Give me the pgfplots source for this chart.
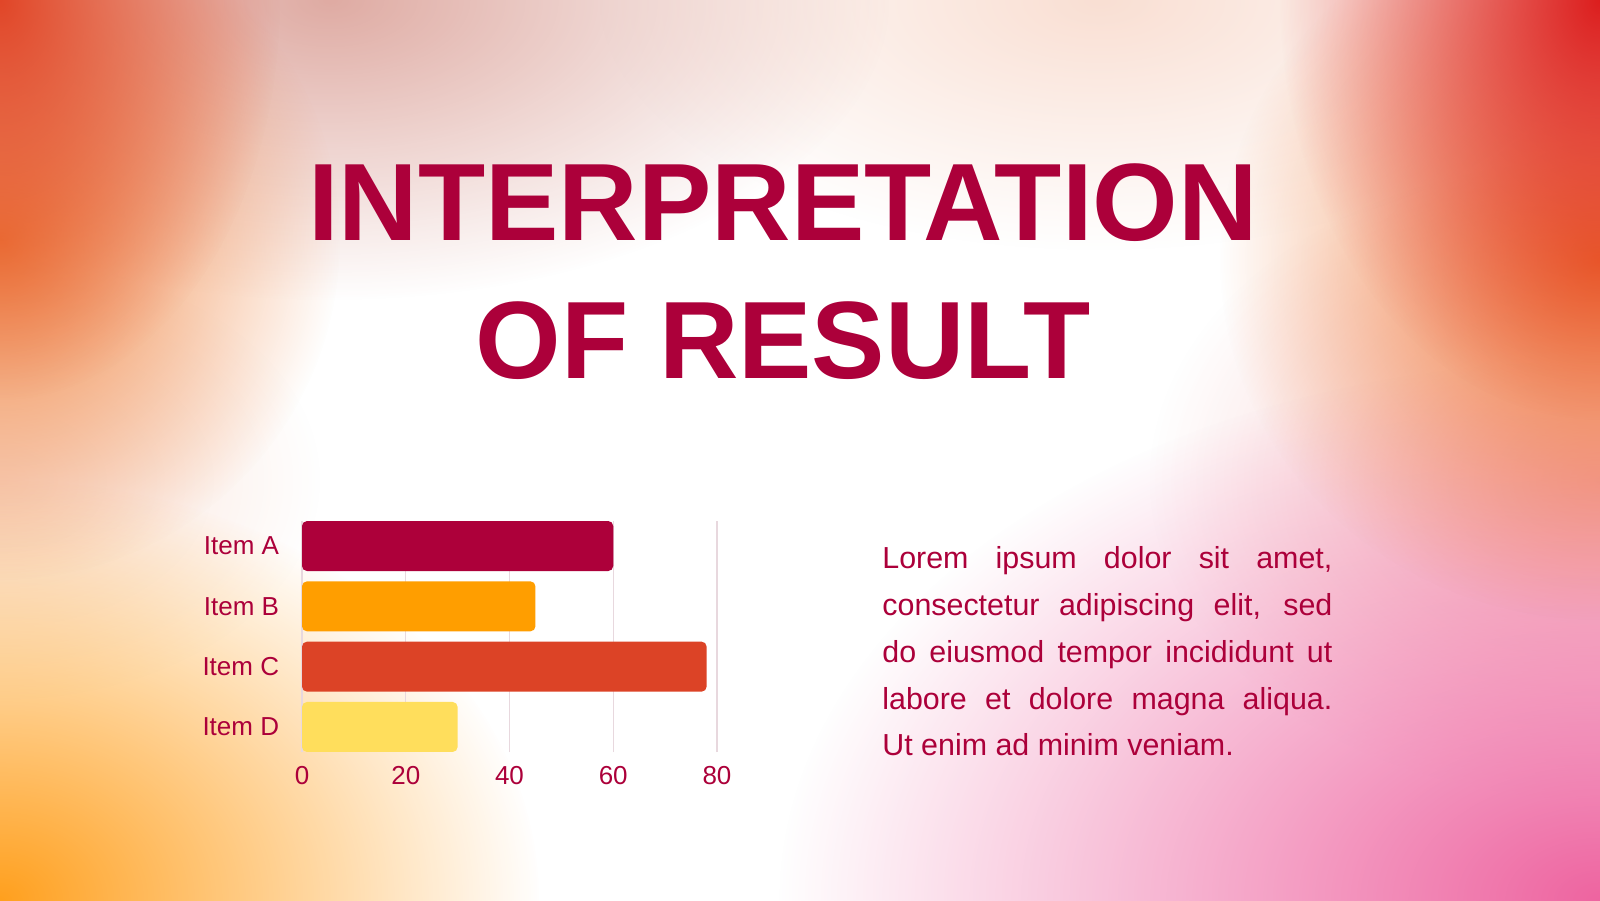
\documentclass[border=0pt]{standalone}
\usepackage{pgfplots}
\pgfplotsset{compat=1.18}
\usepackage{fontspec}
\setmainfont{Liberation Sans}
\usetikzlibrary{fadings}
\tikzfading[name=myfade, inner color=transparent!0, outer color=transparent!100]
\definecolor{crimson}{RGB}{172,0,58}
\definecolor{cA}{RGB}{173,0,58}
\definecolor{cB}{RGB}{255,158,0}
\definecolor{cC}{RGB}{220,67,38}
\definecolor{cD}{RGB}{255,222,92}
\definecolor{gridc}{RGB}{232,216,222}
\definecolor{bgTL}{RGB}{225,70,40}
\definecolor{bgL}{RGB}{240,130,60}
\definecolor{bgTop}{RGB}{215,150,140}
\definecolor{bgTR}{RGB}{220,30,30}
\definecolor{bgR}{RGB}{240,120,50}
\definecolor{bgRm}{RGB}{242,160,160}
\definecolor{bgBL}{RGB}{255,160,30}
\definecolor{bgBR}{RGB}{238,100,160}
\definecolor{bgLm}{RGB}{245,200,180}
\definecolor{bgTm}{RGB}{248,215,200}
\begin{document}
\begin{tikzpicture}
\begin{scope}[x=0.5pt,y=0.5pt]
\useasboundingbox (0,0) rectangle (1600,900);
\clip (0,0) rectangle (1600,900);
\fill[white] (0,0) rectangle (1600,900);
\fill[bgTm, opacity=0.8, path fading=myfade] (1100,900) ellipse [x radius=500, y radius=250];
\fill[bgTop, opacity=0.8, path fading=myfade] (330,900) ellipse [x radius=560, y radius=300];
\fill[bgLm, opacity=0.6, path fading=myfade] (0,420) ellipse [x radius=320, y radius=220];
\fill[bgRm, opacity=0.7, path fading=myfade] (1600,420) ellipse [x radius=450, y radius=320];
\fill[bgBL, path fading=myfade] (0,0) ellipse [x radius=540, y radius=420];
\fill[bgBR, path fading=myfade] (1600,0) ellipse [x radius=820, y radius=540];
\fill[bgL, path fading=myfade] (0,660) ellipse [x radius=340, y radius=340];
\fill[bgR, path fading=myfade] (1600,640) ellipse [x radius=380, y radius=360];
\fill[bgTL, path fading=myfade] (0,900) ellipse [x radius=280, y radius=400];
\fill[bgTR, path fading=myfade] (1600,900) ellipse [x radius=320, y radius=420];
\end{scope}

\node[anchor=base, inner sep=0pt, text=crimson, font=\fontsize{55}{60}\selectfont\bfseries] at (391.5pt,329.5pt) {INTERPRETATION};
\node[anchor=base, inner sep=0pt, text=crimson, font=\fontsize{55}{60}\selectfont\bfseries] at (391.75pt,260.7pt) {OF RESULT};

\node[anchor=base west, inner sep=0pt, text width=225pt, align=justify, text=crimson, font=\fontsize{15.2}{23.45}\selectfont] at (441pt,165.8pt)
{Lorem ipsum dolor sit amet,\linebreak consectetur adipiscing elit, sed\linebreak do eiusmod tempor incididunt ut\linebreak labore et dolore magna aliqua.\linebreak Ut enim ad minim veniam.};

\begin{axis}[
  at={(151pt,74pt)}, anchor=south west,
  scale only axis, width=207.5pt, height=115.5pt,
  xmin=0, xmax=80, ymin=-0.415, ymax=3.415,
  xbar, bar width=25pt,
  axis line style={draw=none},
  tick style={draw=none},
  xtick={0,20,40,60,80},
  ytick={0,1,2,3},
  yticklabels={Item D,Item C,Item B,Item A},
  xmajorgrids,
  major x grid style={color=gridc, line width=0.6pt},
  /pgf/number format/assume math mode=true,
  ticklabel style={font=\fontsize{13}{16}\selectfont, text=crimson},
  xticklabel style={anchor=north, inner sep=0pt, yshift=-7pt},
  yticklabel style={anchor=east, inner sep=0pt, xshift=-7pt},
]
\addplot[fill=cA, draw=none, rounded corners=2.5pt, bar shift=0pt] coordinates {(60,3)};
\addplot[fill=cB, draw=none, rounded corners=2.5pt, bar shift=0pt] coordinates {(45,2)};
\addplot[fill=cC, draw=none, rounded corners=2.5pt, bar shift=0pt] coordinates {(78,1)};
\addplot[fill=cD, draw=none, rounded corners=2.5pt, bar shift=0pt] coordinates {(30,0)};
\end{axis}
\end{tikzpicture}
\end{document}
